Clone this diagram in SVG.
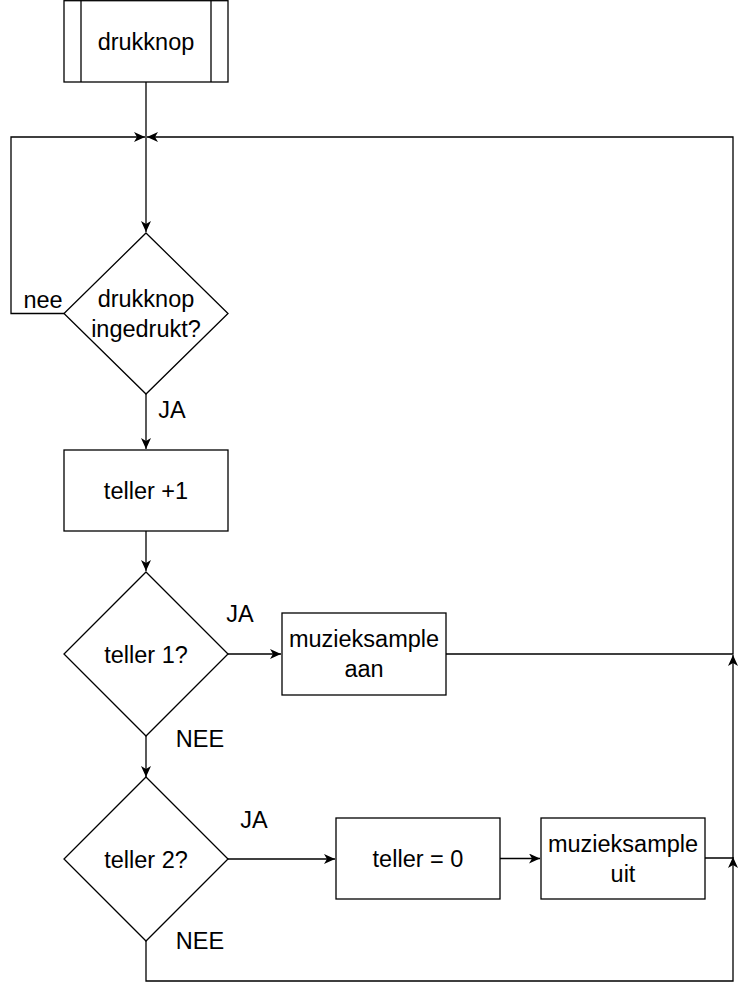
<svg xmlns="http://www.w3.org/2000/svg" width="744" height="994" viewBox="0 0 744 994">
<style>
.s{fill:#fff;stroke:#000;stroke-width:1.3}
.e{fill:none;stroke:#000;stroke-width:1.3}
text{font-family:"Liberation Sans",Arial,Helvetica,sans-serif;font-size:23.5px;fill:#000;text-anchor:middle}
</style>
<defs>
<marker id="a" viewBox="0 0 11 10" refX="11" refY="5" markerWidth="11" markerHeight="10" markerUnits="userSpaceOnUse" orient="auto">
<path d="M0,0 L11,5 L0,10 L3,5 Z" fill="#000"/>
</marker>
</defs>
<g id="connectors">
<path class="e" d="M146,82 V232" marker-end="url(#a)"/>
<path class="e" d="M64,313.5 H11 V137 H145" marker-end="url(#a)"/>
<path class="e" d="M446,654 H733 V137 H147" marker-end="url(#a)"/>
<path class="e" d="M146,394 V449" marker-end="url(#a)"/>
<path class="e" d="M146,531 V571" marker-end="url(#a)"/>
<path class="e" d="M228,654 H281" marker-end="url(#a)"/>
<path class="e" d="M146,736 V777" marker-end="url(#a)"/>
<path class="e" d="M228,859 H335" marker-end="url(#a)"/>
<path class="e" d="M500,858.5 H540" marker-end="url(#a)"/>
<path class="e" d="M705,858 H733 V655" marker-end="url(#a)"/>
<path class="e" d="M146,941 V981 H733 V857" marker-end="url(#a)"/>
</g>
<g id="start">
<rect class="s" x="64" y="0.7" width="164" height="81.3"/>
<line class="e" x1="81" y1="0.7" x2="81" y2="82"/>
<line class="e" x1="211" y1="0.7" x2="211" y2="82"/>
<text x="146" y="50">drukknop</text>
</g>
<g id="d1">
<path class="s" d="M146,233 L228,313.5 L146,394 L64,313.5 Z"/>
<text x="146" y="307">drukknop</text>
<text x="146" y="337">ingedrukt?</text>
</g>
<g id="teller1">
<rect class="s" x="64" y="450" width="164" height="81"/>
<text x="146" y="499">teller +1</text>
</g>
<g id="d2">
<path class="s" d="M146,572 L228,654 L146,736 L64,654 Z"/>
<text x="146" y="663">teller 1?</text>
</g>
<g id="aan">
<rect class="s" x="282" y="613" width="164" height="82"/>
<text x="364" y="647">muzieksample</text>
<text x="364" y="677">aan</text>
</g>
<g id="d3">
<path class="s" d="M146,777 L228,859 L146,941 L64,859 Z"/>
<text x="146" y="868">teller 2?</text>
</g>
<g id="reset">
<rect class="s" x="336" y="818" width="164" height="81"/>
<text x="418" y="867">teller = 0</text>
</g>
<g id="uit">
<rect class="s" x="541" y="818" width="164" height="81"/>
<text x="623" y="852">muzieksample</text>
<text x="623" y="882">uit</text>
</g>
<g id="labels">
<text x="43" y="308">nee</text>
<text x="172" y="418">JA</text>
<text x="240" y="622">JA</text>
<text x="200" y="747">NEE</text>
<text x="254" y="828">JA</text>
<text x="200" y="949">NEE</text>
</g>
</svg>
